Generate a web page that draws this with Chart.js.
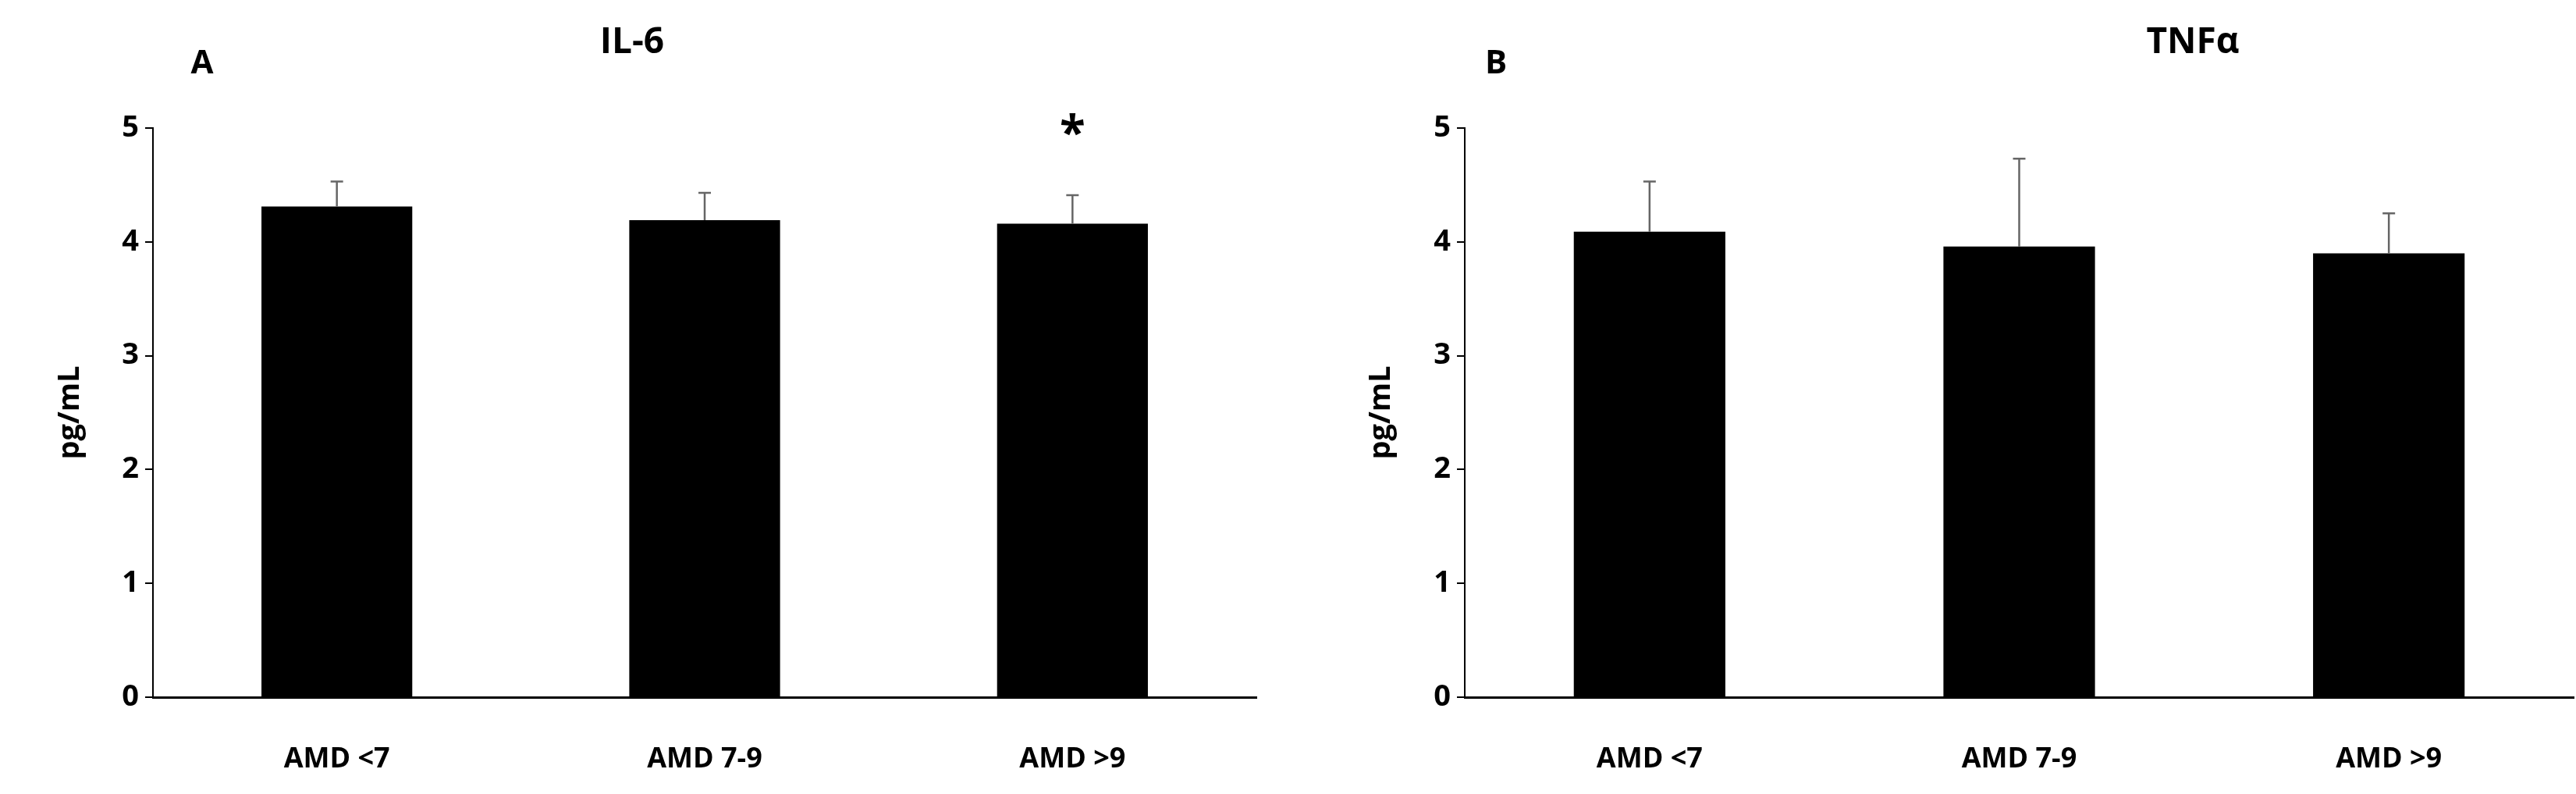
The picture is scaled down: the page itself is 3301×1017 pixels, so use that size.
<!DOCTYPE html>
<html>
<head>
<meta charset="utf-8">
<script src="https://cdn.jsdelivr.net/npm/chart.js@4"></script>
<style>
  body { margin: 0; background: #fff; }
  #wrap { display: flex; width: 3301px; height: 1017px; }
  .panel { position: relative; height: 1017px; }
</style>
</head>
<body>
<div id="wrap">
  <div class="panel" style="width:1650px"><canvas id="il6Chart"></canvas></div>
  <div class="panel" style="width:1651px"><canvas id="tnfChart"></canvas></div>
</div>
<script>
// Datos
const categorias = ['AMD <7', 'AMD 7-9', 'AMD >9'];
const il6Medias = [4.31, 4.19, 4.16];
const il6Error = [0.22, 0.24, 0.25];
const tnfMedias = [4.09, 3.96, 3.90];
const tnfError = [0.44, 0.77, 0.35];
const yTicks = [0, 1, 2, 3, 4, 5];

const fuente = "'Open Sans', 'DejaVu Sans', sans-serif";

/**
 * Plugin: barras de error (solo superiores), títulos y marcas
 */
const anotaciones = {
    id: 'anotaciones',
    afterDatasetsDraw(chart, args, opts) {
        const ctx = chart.ctx;
        const meta = chart.getDatasetMeta(0);
        const y = chart.scales.y;
        const area = chart.chartArea;
        ctx.save();
        // barras de error
        ctx.strokeStyle = '#666';
        ctx.lineWidth = 2.5;
        meta.data.forEach((bar, i) => {
            const top = y.getPixelForValue(opts.medias[i] + opts.errores[i]);
            ctx.beginPath();
            ctx.moveTo(bar.x, bar.y);
            ctx.lineTo(bar.x, top);
            ctx.moveTo(bar.x - 8, top);
            ctx.lineTo(bar.x + 8, top);
            ctx.stroke();
        });
        ctx.fillStyle = '#000';
        ctx.textAlign = 'center';
        ctx.textBaseline = 'middle';
        // título
        ctx.font = `bold 46px ${fuente}`;
        ctx.fillText(opts.titulo, opts.tituloX, 55);
        // letra del panel
        ctx.font = `bold 42px ${fuente}`;
        ctx.fillText(opts.letra, opts.letraX, 82);
        // asterisco
        if (opts.asterisco != null) {
            const b = meta.data[opts.asterisco];
            ctx.font = `bold 60px ${fuente}`;
            ctx.fillText('*', b.x, y.getPixelForValue(4.93));
        }
        // título eje y
        ctx.translate(opts.ejeX, (area.top + area.bottom) / 2);
        ctx.rotate(-Math.PI / 2);
        ctx.font = `bold 38px ${fuente}`;
        ctx.fillText('pg/mL', 0, 0);
        ctx.restore();
    }
};

function crearGrafico(id, medias, errores, opts) {
    const ctx = document.getElementById(id).getContext('2d');
    return new Chart(ctx, {
        type: 'bar',
        data: {
            labels: categorias,
            datasets: [{
                data: medias,
                backgroundColor: '#000',
                borderWidth: 0,
                categoryPercentage: 1,
                barPercentage: 0.41
            }]
        },
        options: {
            responsive: true,
            maintainAspectRatio: false,
            animation: false,
            layout: { padding: { left: 0, top: 164, right: opts.padDer, bottom: 0 } },
            plugins: {
                legend: { display: false },
                tooltip: { enabled: false },
                anotaciones: opts
            },
            scales: {
                x: {
                    grid: { display: false },
                    border: { color: '#000', width: 3 },
                    ticks: { color: '#000', padding: 50, font: { family: fuente, size: 36, weight: 'bold' } },
                    afterFit: s => { s.height = 124; }
                },
                y: {
                    min: 0,
                    max: 5,
                    afterBuildTicks: s => { s.ticks = yTicks.map(v => ({ value: v })); },
                    grid: { drawOnChartArea: false, color: '#000', tickLength: 10, lineWidth: 2 },
                    border: { color: '#000', width: 2 },
                    ticks: { color: '#000', padding: 8, font: { family: fuente, size: 38, weight: 'bold' } },
                    afterFit: s => { s.width = opts.anchoY; }
                }
            }
        },
        plugins: [anotaciones]
    });
}

crearGrafico('il6Chart', il6Medias, il6Error, {
    medias: il6Medias, errores: il6Error, titulo: 'IL-6', tituloX: 810,
    letra: 'A', letraX: 259, asterisco: 2, ejeX: 90, anchoY: 196, padDer: 40
});
crearGrafico('tnfChart', tnfMedias, tnfError, {
    medias: tnfMedias, errores: tnfError, titulo: 'TNFα', tituloX: 1160,
    letra: 'B', letraX: 267, asterisco: null, ejeX: 120, anchoY: 227, padDer: 3
});
</script>
</body>
</html>
